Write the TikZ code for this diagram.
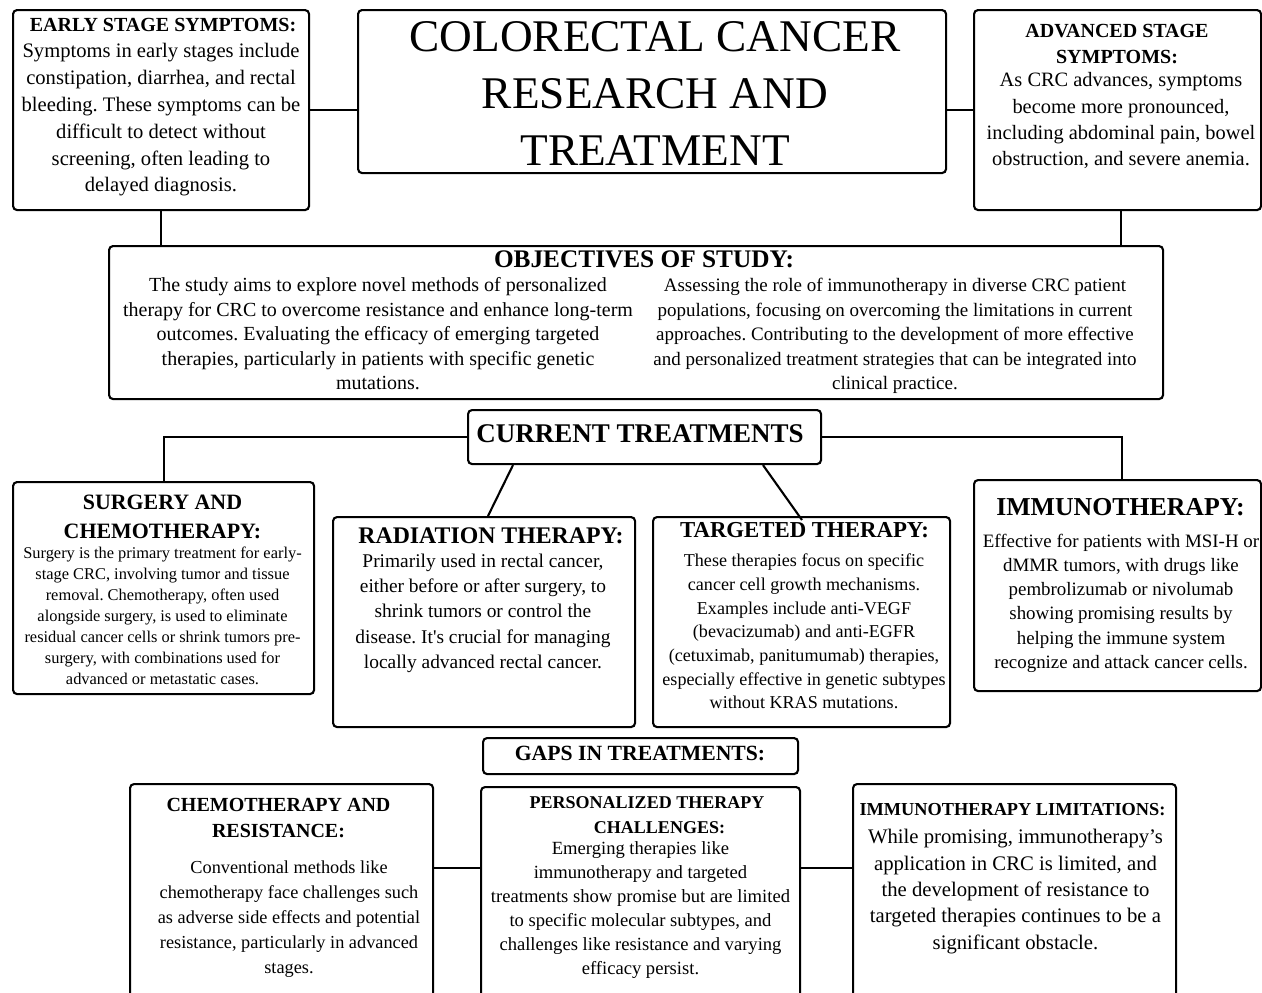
\documentclass[tikz,border=0pt]{standalone}
\usepackage{fontspec}
\setmainfont{Liberation Serif}
\usetikzlibrary{calc}
\newcommand\fsz[2]{\fontsize{#1}{#2}\selectfont}
\begin{document}
\frenchspacing
\begin{tikzpicture}[x=1pt,y=-1pt,
  box/.style={draw, line width=2.1pt, rounded corners=4pt, inner sep=0pt, anchor=north west},
  txt/.style={inner sep=0pt, align=center},
  link/.style={line width=2.1pt}]
\useasboundingbox (0,0) rectangle (1262,993);
\clip (0,0) rectangle (1262,993);
\fill[white] (0,0) rectangle (1262,993);
% boxes
\node[box, minimum width=296, minimum height=200] (early) at (12,9) {};
\node[box, minimum width=588, minimum height=163] (title) at (357,9) {};
\node[box, minimum width=287, minimum height=200] (adv) at (973,9) {};
\node[box, minimum width=1054, minimum height=153] (obj) at (108,245) {};
\node[box, minimum width=353, minimum height=54] (current) at (467,409) {};
\node[box, minimum width=301, minimum height=212] (surgery) at (12,481) {};
\node[box, minimum width=302, minimum height=210] (radiation) at (332,516) {};
\node[box, minimum width=297, minimum height=210] (targeted) at (652,516) {};
\node[box, minimum width=287, minimum height=211] (immuno) at (973,479) {};
\node[box, minimum width=315, minimum height=36] (gaps) at (482,737) {};
\node[box, minimum width=303, minimum height=240] (chemo) at (129,783) {};
\node[box, minimum width=319, minimum height=240] (personal) at (480,786) {};
\node[box, minimum width=323, minimum height=240] (limits) at (852,783) {};
% connectors
\draw[link] (early.east) -- (early.east -| title.west);
\draw[link] (adv.west) -- (adv.west -| title.east);
\draw[link] (early.south) -- (early.south |- obj.north);
\draw[link] ($(adv.south west)+(148,0)$) -- ++(0,36);
\draw[link] (current.west) -| (surgery.north);
\draw[link] (current.east) -| ($(immuno.north west)+(149,0)$);
\draw[link] ($(current.south west)+(46,0)$) -- ($(radiation.north west)+(156,0)$);
\draw[link] ($(current.south west)+(296,0)$) -- ($(targeted.north west)+(150,4)$);
\draw[link] ($(chemo.north east)+(0,85)$) -- ($(personal.north west)+(0,82)$);
\draw[link] ($(personal.north east)+(0,82)$) -- ($(limits.north west)+(0,85)$);
% texts
\node[txt, font=\fsz{20}{26}\bfseries] (earlyh) at (163,25) {EARLY STAGE SYMPTOMS:};
\node[txt, anchor=north, font=\fsz{20.6}{26.8}] (earlyb) at (161,43.5) {Symptoms in early stages include\\ constipation, diarrhea, and rectal\\ bleeding. These symptoms can be\\ difficult to detect without\\ screening, often leading to\\ delayed diagnosis.};
\node[txt, anchor=north, font=\fsz{45.3}{57}] (titlet) at (655,21.5) {COLORECTAL CANCER\\ RESEARCH AND\\ TREATMENT};
\node[txt, anchor=north, font=\fsz{20}{26}\bfseries] (advh) at (1117,24) {ADVANCED STAGE\\ SYMPTOMS:};
\node[txt, anchor=north, font=\fsz{20.4}{26.3}] (advb) at (1121,72.4) {As CRC advances, symptoms\\ become more pronounced,\\ including abdominal pain, bowel\\ obstruction, and severe anemia.};
\node[txt, anchor=north, font=\fsz{25.3}{28}\bfseries] (objh) at (644,250.5) {OBJECTIVES OF STUDY:};
\node[txt, anchor=north, font=\fsz{20}{24.5}] (objl) at (378,277.7) {The study aims to explore novel methods of personalized\\ therapy for CRC to overcome resistance and enhance long-term\\ outcomes. Evaluating the efficacy of emerging targeted\\ therapies, particularly in patients with specific genetic\\ mutations.};
\node[txt, anchor=north, font=\fsz{19}{24.5}] (objr) at (895,278) {Assessing the role of immunotherapy in diverse CRC patient\\ populations, focusing on overcoming the limitations in current\\ approaches. Contributing to the development of more effective\\ and personalized treatment strategies that can be integrated into\\ clinical practice.};
\node[txt, font=\fsz{27}{30}\bfseries] (currentt) at (640,434) {CURRENT TREATMENTS};
\node[txt, anchor=north, font=\fsz{21.9}{28.4}\bfseries] (surgh) at (162.5,495) {SURGERY AND\\ CHEMOTHERAPY:};
\node[txt, anchor=north, font=\fsz{16.4}{21.1}] (surgb) at (162.5,546.5) {Surgery is the primary treatment for early-\\ stage CRC, involving tumor and tissue\\ removal. Chemotherapy, often used\\ alongside surgery, is used to eliminate\\ residual cancer cells or shrink tumors pre-\\ surgery, with combinations used for\\ advanced or metastatic cases.};
\node[txt, font=\fsz{23.8}{28}\bfseries] (radh) at (491,535.3) {RADIATION THERAPY:};
\node[txt, anchor=north, font=\fsz{19.4}{25.3}] (radb) at (483,553.5) {Primarily used in rectal cancer,\\ either before or after surgery, to\\ shrink tumors or control the\\ disease. It\textquotesingle s crucial for managing\\ locally advanced rectal cancer.};
\node[txt, font=\fsz{22.8}{26}\bfseries] (targh) at (804.5,530.5) {TARGETED THERAPY:};
\node[txt, anchor=north, font=\fsz{18.1}{23.7}] (targb) at (804,553.8) {These therapies focus on specific\\ cancer cell growth mechanisms.\\ Examples include anti-VEGF\\ (bevacizumab) and anti-EGFR\\ (cetuximab, panitumumab) therapies,\\ especially effective in genetic subtypes\\ without KRAS mutations.};
\node[txt, font=\fsz{25.8}{29}\bfseries] (immh) at (1120.5,507.5) {IMMUNOTHERAPY:};
\node[txt, anchor=north, font=\fsz{18.9}{24.2}] (immb) at (1121,533.8) {Effective for patients with MSI-H or\\ dMMR tumors, with drugs like\\ pembrolizumab or nivolumab\\ showing promising results by\\ helping the immune system\\ recognize and attack cancer cells.};
\node[txt, font=\fsz{21.7}{25}\bfseries] (gapst) at (640,753.5) {GAPS IN TREATMENTS:};
\node[txt, anchor=north, font=\fsz{20}{25.5}\bfseries] (chemh) at (278.5,798.5) {CHEMOTHERAPY AND\\ RESISTANCE:};
\node[txt, anchor=north, font=\fsz{18.3}{25}] (chemb) at (289,861) {Conventional methods like\\ chemotherapy face challenges such\\ as adverse side effects and potential\\ resistance, particularly in advanced\\ stages.};
\node[txt, anchor=north, font=\fsz{18}{24.5}\bfseries] (persh) at (647,796.4) {PERSONALIZED THERAPY\\ \hspace*{25pt}CHALLENGES:};
\node[txt, anchor=north, font=\fsz{18.6}{24}] (persb) at (640.5,841.4) {Emerging therapies like\\ immunotherapy and targeted\\ treatments show promise but are limited\\ to specific molecular subtypes, and\\ challenges like resistance and varying\\ efficacy persist.};
\node[txt, font=\fsz{18.3}{22}\bfseries] (limh) at (1012.5,809.5) {IMMUNOTHERAPY LIMITATIONS:};
\node[txt, anchor=north, font=\fsz{20.7}{26.3}] (limb) at (1015.5,829.4) {While promising, immunotherapy’s\\ application in CRC is limited, and\\ the development of resistance to\\ targeted therapies continues to be a\\ significant obstacle.};
\end{tikzpicture}
\end{document}
